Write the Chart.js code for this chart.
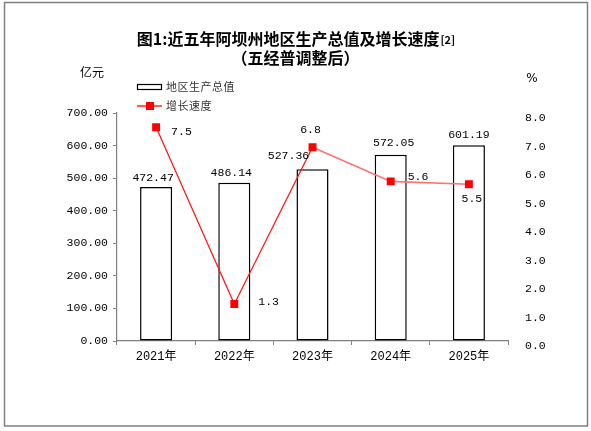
<!DOCTYPE html>
<html>
<head>
<meta charset="utf-8">
<script src="https://cdn.jsdelivr.net/npm/chart.js@4.4.1/dist/chart.umd.min.js"></script>
<style>
  html, body { margin: 0; padding: 0; background: #fff; }
  canvas { display: block; }
</style>
</head>
<body>
<canvas id="chart" width="591" height="431" style="width:591px;height:431px"></canvas>
<script>
const years = ['2021年', '2022年', '2023年', '2024年', '2025年'];
const gdp = [472.47, 486.14, 527.36, 572.05, 601.19];   // 亿元
const growth = [7.5, 1.3, 6.8, 5.6, 5.5];               // %

const titleLine1 = '图1:近五年阿坝州地区生产总值及增长速度';
const titleNote = '[2]';
const titleLine2 = '（五经普调整后）';
const gdpName = '地区生产总值';
const growthName = '增长速度';

const numFont = '11.5px "Liberation Mono", "Noto Sans CJK SC", monospace';
const axisGray = '#808080';

// label nudges, in pixels
const barLabelShift = [[-3, -9], [-3, -10], [-24, -13], [3, -12], [0, -10]];
const lineLabelShift = [[15, 5, 'left'], [24, -2, 'left'], [-2, -17, 'center'], [17, -4, 'left'], [3, 15, 'center']];

const decorations = {
  id: 'decorations',
  beforeDraw(chart) {
    const ctx = chart.ctx;
    ctx.save();
    ctx.fillStyle = '#fff';
    ctx.fillRect(0, 0, chart.width, chart.height);
    ctx.strokeStyle = axisGray;
    ctx.lineWidth = 1.5;
    ctx.strokeRect(4.5, 2.5, 583, 423.5);
    ctx.restore();
  },
  afterDatasetsDraw(chart) {
    const ctx = chart.ctx;
    ctx.save();
    ctx.fillStyle = '#000';
    ctx.font = numFont;
    ctx.textBaseline = 'middle';

    // bar values
    ctx.textAlign = 'center';
    chart.getDatasetMeta(1).data.forEach((bar, i) => {
      const s = barLabelShift[i];
      ctx.fillText(gdp[i].toFixed(2), bar.x + s[0], bar.y + s[1]);
    });

    // growth values
    chart.getDatasetMeta(0).data.forEach((pt, i) => {
      const s = lineLabelShift[i];
      ctx.textAlign = s[2];
      ctx.fillText(growth[i].toFixed(1), pt.x + s[0], pt.y + s[1]);
    });

    // title
    const cx = 295.5;
    const bold = 'bold 16px "Noto Sans CJK SC", sans-serif';
    ctx.font = bold;
    const w1 = ctx.measureText(titleLine1).width;
    ctx.font = 'bold 11px "Noto Sans CJK SC", sans-serif';
    const w2 = ctx.measureText(titleNote).width;
    const x0 = cx - (w1 + w2) / 2;
    ctx.textAlign = 'left';
    ctx.font = bold;
    ctx.fillText(titleLine1, x0, 39);
    ctx.font = 'bold 11px "Noto Sans CJK SC", sans-serif';
    ctx.fillText(titleNote, x0 + w1 + 1, 40);
    ctx.textAlign = 'center';
    ctx.font = bold;
    ctx.fillText(titleLine2, cx, 58);

    // axis units
    ctx.font = '12px "Noto Sans CJK SC", sans-serif';
    ctx.fillText('亿元', 92, 72);
    ctx.font = '12px "DejaVu Sans", sans-serif';
    ctx.fillText('%', 532, 79);

    // legend
    ctx.strokeStyle = '#000';
    ctx.lineWidth = 1.2;
    ctx.strokeRect(137.5, 84.5, 24, 5);
    ctx.strokeStyle = '#ff0000';
    ctx.lineWidth = 1.3;
    ctx.beginPath();
    ctx.moveTo(137, 106);
    ctx.lineTo(162, 106);
    ctx.stroke();
    ctx.fillStyle = '#ff0000';
    ctx.fillRect(146, 102, 8, 8);
    ctx.fillStyle = '#333';
    ctx.textAlign = 'left';
    ctx.font = '11px "Noto Sans CJK SC", sans-serif';
    const drawSpaced = (txt, x, y) => {
      for (const ch of txt) { ctx.fillText(ch, x, y); x += 11.5; }
    };
    drawSpaced(gdpName, 166, 87);
    drawSpaced(growthName, 166, 106);
    ctx.restore();
  }
};

new Chart(document.getElementById('chart'), {
  data: {
    labels: years,
    datasets: [
      {
        type: 'line',
        label: growthName,
        data: growth,
        yAxisID: 'y1',
        order: 0,
        borderColor: '#ff0000',
        borderWidth: 1.3,
        pointStyle: 'rect',
        pointRadius: 5.6,
        pointBackgroundColor: '#ff0000',
        pointBorderColor: '#ff0000',
        pointBorderWidth: 0,
        tension: 0,
        segment: {
          borderColor: c => c.p0DataIndex >= 2 ? '#ff7272' : '#ff1a1a',
          borderWidth: c => c.p0DataIndex >= 2 ? 1.6 : 1.3
        }
      },
      {
        type: 'bar',
        label: gdpName,
        data: gdp,
        yAxisID: 'y',
        order: 1,
        backgroundColor: '#ffffff',
        borderColor: '#000000',
        borderWidth: 1.5,
        borderSkipped: false,
        categoryPercentage: 1,
        barPercentage: 0.41
      }
    ]
  },
  options: {
    responsive: false,
    animation: false,
    layout: { padding: { top: 113, left: 0, right: 0, bottom: 0 } },
    plugins: {
      legend: { display: false },
      title: { display: false },
      tooltip: { enabled: false }
    },
    scales: {
      x: {
        afterFit: s => { s.height = 90; },
        grid: { display: true, drawOnChartArea: false, offset: true, tickLength: 4, color: axisGray },
        border: { display: true, color: axisGray, width: 1.2 },
        ticks: { color: '#000', font: { family: '"Liberation Mono", "Noto Sans CJK SC", monospace', size: 12 }, padding: 5 }
      },
      y: {
        position: 'left',
        min: 0,
        max: 700,
        afterFit: s => { s.width = 117; },
        grid: { display: true, drawOnChartArea: false, tickLength: 4, color: axisGray },
        border: { display: true, color: axisGray, width: 1.2 },
        ticks: {
          stepSize: 100,
          color: '#000',
          font: { family: '"Liberation Mono", monospace', size: 11.5 },
          padding: 5,
          callback: v => v.toFixed(2)
        }
      },
      y1: {
        position: 'right',
        min: 0,
        max: 8,
        afterFit: s => { s.width = 83; },
        grid: { display: false, drawOnChartArea: false },
        border: { display: false },
        ticks: {
          stepSize: 1,
          color: '#000',
          font: { family: '"Liberation Mono", monospace', size: 11.5 },
          padding: 9,
          labelOffset: 5,
          callback: v => v.toFixed(1)
        }
      }
    }
  },
  plugins: [decorations]
});
</script>
</body>
</html>
